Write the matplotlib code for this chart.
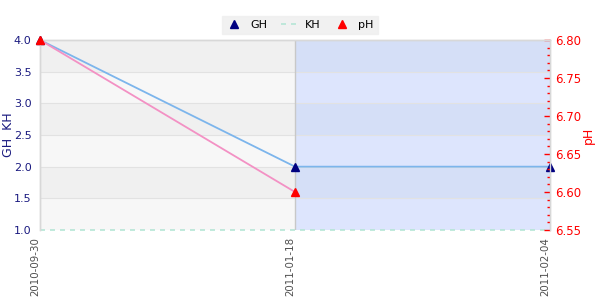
import matplotlib
matplotlib.use("Agg")
import matplotlib.pyplot as plt
import numpy as np
from matplotlib.ticker import MultipleLocator, FormatStrFormatter
from matplotlib.lines import Line2D
import matplotlib.transforms as mtransforms

dates = ["2010-09-30", "2011-01-18", "2011-02-04"]
gh = [4.0, 2.0, 2.0]
kh = [1.0, 1.0, 1.0]
ph = [6.80, 6.60]

fig = plt.figure(figsize=(6, 3), dpi=100)
ax = fig.add_axes([40/600, 70/300, 510/600, 190/300])
x = np.arange(len(dates))

ax.set_xlim(0, 2)
ax.set_ylim(1.0, 4.0)
yt = np.arange(1.0, 4.01, 0.5)
# background bands
for i in range(len(yt) - 1):
    dark = (i % 2 == 1)
    ax.fill_between([0, 1], yt[i], yt[i+1], color="#f0f0f0" if dark else "#f7f7f7", lw=0, zorder=0)
    ax.fill_between([1, 2], yt[i], yt[i+1], color="#d5dff7" if dark else "#dde5fd", lw=0, zorder=0)
for v in yt[1:-1]:
    ax.axhline(v, color="#e2e2e2", lw=0.8, zorder=0.5)
ax.axvline(1, color="#c8c8c8", lw=1.0, zorder=0.5)

ax.plot(x, gh, color="#7cb5ec", lw=1.3, zorder=2)
ax.plot(x, kh, color="#b5e6d6", lw=1.2, ls=(0, (3, 3)), zorder=2, clip_on=False)
ax.plot(x, gh, ls="none", marker="^", ms=6, color="#000080", zorder=4, clip_on=False)

ax2 = ax.twinx()
ax2.set_ylim(6.55, 6.80)
ax2.plot(x[:len(ph)], ph, color="#f391c4", lw=1.3, zorder=2)
ax2.plot(x[:len(ph)], ph, ls="none", marker="^", ms=6, color="#ff0000", zorder=5, clip_on=False)

ax.set_xticks(x)
ax.set_xticklabels(dates, rotation=90, fontsize=7.4, color="#505050", ha="right", va="top")
offset = mtransforms.ScaledTranslation(-3/100, 0, fig.dpi_scale_trans)
for lab in ax.get_xticklabels():
    lab.set_transform(lab.get_transform() + offset)
ax.tick_params(axis="x", length=0, pad=5)
ax.set_yticks(yt)
ax.yaxis.set_major_formatter(FormatStrFormatter("%.1f"))
ax.tick_params(axis="y", length=0, labelsize=8, labelcolor="#1a1a80", pad=6)
ax.set_ylabel("GH  KH", color="#1a1a80", fontsize=9, labelpad=-1)

ax2.yaxis.set_major_locator(MultipleLocator(0.05))
ax2.yaxis.set_minor_locator(MultipleLocator(0.01))
ax2.yaxis.set_major_formatter(FormatStrFormatter("%.2f"))
ax2.tick_params(axis="y", which="major", direction="in", length=4, width=1, color="red", labelsize=8.5, labelcolor="red", pad=4)
ax2.tick_params(axis="y", which="minor", direction="in", length=2, width=1, color="red")
ax2.set_ylabel("pH", color="red", fontsize=9, labelpad=0)

for a in (ax, ax2):
    for s in a.spines.values():
        s.set_color("#d8d8d8")
        s.set_linewidth(1)
    a.spines["bottom"].set_visible(False)

handles = [
    Line2D([], [], ls="none", marker="^", ms=6, color="#000080"),
    Line2D([], [], color="#b5e6d6", lw=1.2, ls=(0, (3, 3))),
    Line2D([], [], ls="none", marker="^", ms=6, color="#ff0000"),
]
leg = fig.legend(handles, ["GH", "KH", "pH"], loc="center", bbox_to_anchor=(0.5, 1 - 25/300), ncol=3,
                 fontsize=8, frameon=True, fancybox=False, handlelength=1.3, columnspacing=1.3,
                 handletextpad=0.8, borderpad=0.4)
leg.get_frame().set_facecolor("#eeeeee")
leg.get_frame().set_edgecolor("#eeeeee")

fig.savefig("out.png", dpi=100)
